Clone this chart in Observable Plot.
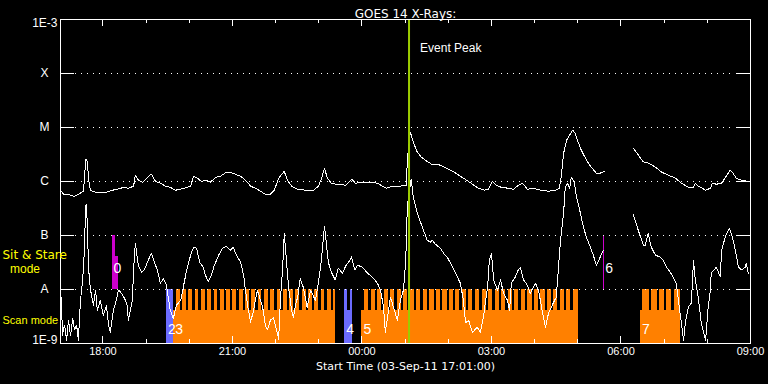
<!DOCTYPE html>
<html><head><meta charset="utf-8">
<script src="https://cdn.jsdelivr.net/npm/d3@7"></script>
<script src="https://cdn.jsdelivr.net/npm/@observablehq/plot@0.6"></script>
<style>html,body{margin:0;padding:0;background:#000;overflow:hidden}svg{display:block}</style>
</head><body><div id="chart"></div>
<script>
// Time values are hours since 2011-09-03 00:00 UT; fluxes in W/m^2
const startHour = 17 + 1/60;
const endHour = 33;
const eventPeakHour = 25.09;

// Long-wavelength channel (1-8 A)
const longChannel = [[17.02,6.9e-7],[17.09,5.8e-7],[17.25,5.6e-7],[17.34,5.3e-7],[17.48,6.1e-7],[17.55,6.6e-7],[17.60,2.5e-6],[17.62,2.6e-6],[17.64,2.2e-6],[17.67,1.06e-6],[17.71,6.9e-7],[17.83,6.3e-7],[18.06,6.3e-7],[18.22,6.9e-7],[18.34,7.2e-7],[18.48,7.8e-7],[18.59,7.5e-7],[18.71,8.2e-7],[18.75,1.3e-6],[18.82,1.06e-6],[18.92,9.7e-7],[19.01,1.15e-6],[19.12,1.37e-6],[19.22,1.0e-6],[19.33,9.3e-7],[19.45,8.2e-7],[19.56,7.8e-7],[19.68,6.9e-7],[19.80,7.2e-7],[19.96,7.8e-7],[20.03,8.2e-7],[20.10,1.25e-6],[20.19,1.15e-6],[20.28,1.0e-6],[20.37,1.06e-6],[20.49,9.7e-7],[20.61,1.2e-6],[20.72,1.25e-6],[20.86,1.49e-6],[21.00,1.43e-6],[21.19,1.25e-6],[21.30,1.06e-6],[21.42,8.2e-7],[21.53,7.5e-7],[21.65,6.6e-7],[21.76,5.8e-7],[21.88,5.8e-7],[21.97,6.9e-7],[22.07,1.15e-6],[22.20,1.55e-6],[22.27,1.06e-6],[22.37,8.2e-7],[22.51,7.2e-7],[22.69,6.9e-7],[22.88,6.9e-7],[22.99,8.2e-7],[23.06,1.1e-6],[23.13,1.76e-6],[23.20,1.15e-6],[23.29,9.3e-7],[23.41,8.9e-7],[23.52,8.9e-7],[23.62,8.5e-7],[23.69,9.7e-7],[23.76,1.1e-6],[23.85,9.3e-7],[24.01,9.7e-7],[24.20,9.7e-7],[24.36,9.3e-7],[24.47,8.2e-7],[24.57,7.5e-7],[24.71,8.2e-7],[24.89,8.2e-7],[25.03,8.5e-7],[25.05,2.5e-6],[25.12,8.2e-6],[25.19,5.3e-6],[25.28,3.5e-6],[25.38,2.8e-6],[25.49,2.4e-6],[25.61,2.1e-6],[25.75,2.1e-6],[25.86,1.92e-6],[26.00,1.69e-6],[26.14,1.49e-6],[26.28,1.25e-6],[26.42,1.06e-6],[26.56,8.9e-7],[26.70,7.5e-7],[26.84,6.9e-7],[26.93,7.2e-7],[27.02,1.0e-6],[27.11,8.5e-7],[27.23,7.8e-7],[27.39,7.5e-7],[27.51,7.2e-7],[27.62,8.5e-7],[27.72,9.3e-7],[27.83,7.2e-7],[27.97,7.5e-7],[28.13,6.9e-7],[28.32,6.6e-7],[28.48,6.9e-7],[28.57,7.5e-7],[28.62,1.3e-6],[28.67,3.3e-6],[28.74,5.8e-6],[28.81,7.2e-6],[28.88,8.9e-6],[28.94,7.8e-6],[29.01,5.3e-6],[29.08,3.8e-6],[29.20,2.5e-6],[29.31,1.84e-6],[29.43,1.43e-6],[29.52,1.43e-6],[29.62,1.55e-6],[29.9,null],[30.29,4.1e-6],[30.40,3.1e-6],[30.52,2.3e-6],[30.63,2.2e-6],[30.80,1.84e-6],[30.94,1.49e-6],[31.10,1.31e-6],[31.26,1.15e-6],[31.40,9.3e-7],[31.56,7.8e-7],[31.68,7.8e-7],[31.72,9.3e-7],[31.79,8.2e-7],[31.96,6.9e-7],[32.07,7.5e-7],[32.12,9.3e-7],[32.21,8.9e-7],[32.33,9.3e-7],[32.42,1.2e-6],[32.53,1.62e-6],[32.58,1.49e-6],[32.67,1.15e-6],[32.79,1.06e-6],[32.95,1.0e-6]];

// Short-wavelength channel (0.5-4 A)
const shortChannel = [[17.02,2.7e-9],[17.04,7.2e-9],[17.06,1.4e-9],[17.11,2.2e-9],[17.16,1.15e-9],[17.20,2.7e-9],[17.25,1.4e-9],[17.30,2.9e-9],[17.34,1.8e-9],[17.39,2.2e-9],[17.43,1.15e-9],[17.48,6.3e-9],[17.53,1.5e-8],[17.57,5.3e-8],[17.60,3.6e-7],[17.62,3.8e-7],[17.64,1.25e-7],[17.67,2.3e-8],[17.71,1.0e-8],[17.78,5.1e-9],[17.83,9.7e-9],[17.87,4.1e-9],[17.94,6.3e-9],[18.01,3.3e-9],[18.08,5.1e-9],[18.13,2.2e-9],[18.17,1.6e-9],[18.24,4.1e-9],[18.31,6.3e-9],[18.36,9.7e-9],[18.41,8.9e-9],[18.50,6.9e-9],[18.56,5.1e-9],[18.59,2.7e-9],[18.68,6.3e-9],[18.71,2.3e-8],[18.75,7.2e-8],[18.82,2.8e-8],[18.89,2.1e-8],[18.96,2.3e-8],[19.03,3.2e-8],[19.12,4.7e-8],[19.19,3.2e-8],[19.26,2.3e-8],[19.33,1.3e-8],[19.40,1.6e-8],[19.47,1.2e-8],[19.56,4.1e-9],[19.63,2.9e-9],[19.70,5.1e-9],[19.80,6.3e-9],[19.87,1.2e-8],[19.94,2.3e-8],[20.03,4.3e-8],[20.10,6.1e-8],[20.17,5.8e-8],[20.24,3.2e-8],[20.31,2.7e-8],[20.38,1.8e-8],[20.44,1.4e-8],[20.51,1.8e-8],[20.58,2.8e-8],[20.68,4.3e-8],[20.77,5.8e-8],[20.86,6.3e-8],[20.95,5.3e-8],[21.02,6.1e-8],[21.09,4.3e-8],[21.19,3.2e-8],[21.26,1.8e-8],[21.30,9.7e-9],[21.35,5.1e-9],[21.42,2.5e-9],[21.49,4.1e-9],[21.53,6.3e-9],[21.58,9.7e-9],[21.65,6.3e-9],[21.70,4.7e-9],[21.76,2.2e-9],[21.81,1.8e-9],[21.88,2.7e-9],[21.95,3.0e-9],[22.02,1.8e-9],[22.07,1.2e-9],[22.11,6.3e-9],[22.16,2.3e-8],[22.20,1.1e-7],[22.25,3.5e-8],[22.30,1.1e-8],[22.37,4.1e-9],[22.41,3.0e-9],[22.46,5.1e-9],[22.51,7.2e-9],[22.57,1.6e-8],[22.64,1.1e-8],[22.73,4.7e-9],[22.81,9.7e-9],[22.92,6.3e-9],[22.99,1.3e-8],[23.06,3.5e-8],[23.13,1.49e-7],[23.18,6.6e-8],[23.22,3.2e-8],[23.29,2.1e-8],[23.38,1.5e-8],[23.45,2.5e-8],[23.55,2.0e-8],[23.62,2.7e-8],[23.69,3.2e-8],[23.76,4.0e-8],[23.83,2.3e-8],[23.90,2.8e-8],[24.01,2.6e-8],[24.13,2.0e-8],[24.24,1.7e-8],[24.36,1.3e-8],[24.43,9.7e-9],[24.50,4.7e-9],[24.54,1.6e-9],[24.59,3.0e-9],[24.66,7.2e-9],[24.73,4.7e-9],[24.82,2.7e-9],[24.89,6.3e-9],[24.96,9.7e-9],[25.01,3.1e-8],[25.03,8.2e-8],[25.05,3.5e-7],[25.10,6.9e-7],[25.14,1.1e-6],[25.19,5.1e-7],[25.28,2.6e-7],[25.40,1.42e-7],[25.51,8.2e-8],[25.58,7.5e-8],[25.63,8.2e-8],[25.70,6.9e-8],[25.82,5.8e-8],[25.89,4.7e-8],[25.98,3.9e-8],[26.05,3.1e-8],[26.17,2.0e-8],[26.28,1.3e-8],[26.35,6.3e-9],[26.40,2.4e-9],[26.47,2.7e-9],[26.56,1.6e-9],[26.67,2.0e-9],[26.74,1.6e-9],[26.81,3.0e-9],[26.91,1.1e-8],[26.95,3.5e-8],[27.00,4.7e-8],[27.05,1.5e-8],[27.14,9.7e-9],[27.21,1.5e-8],[27.28,8.5e-9],[27.37,6.3e-9],[27.42,4.1e-9],[27.46,1.3e-8],[27.55,1.7e-8],[27.62,2.3e-8],[27.67,2.5e-8],[27.74,1.5e-8],[27.81,1.3e-8],[27.90,8.5e-9],[28.02,1.3e-8],[28.09,9.7e-9],[28.16,4.7e-9],[28.25,2.0e-9],[28.32,3.6e-9],[28.43,5.6e-9],[28.50,7.2e-9],[28.60,8.2e-8],[28.67,2.6e-7],[28.71,7.9e-7],[28.76,9.3e-7],[28.81,7.5e-7],[28.85,1.2e-6],[28.92,9.7e-7],[28.97,5.1e-7],[29.06,2.6e-7],[29.13,1.42e-7],[29.20,9.3e-8],[29.29,6.1e-8],[29.36,4.3e-8],[29.43,2.8e-8],[29.52,4.0e-8],[29.59,5.3e-8],[29.9,null],[30.29,2.4e-7],[30.40,1.25e-7],[30.52,6.6e-8],[30.56,6.6e-8],[30.63,1.1e-7],[30.70,6.1e-8],[30.80,4.3e-8],[30.91,4.0e-8],[30.98,3.5e-8],[31.05,2.6e-8],[31.14,2.1e-8],[31.21,1.7e-8],[31.28,1.3e-8],[31.35,4.7e-9],[31.40,2.4e-9],[31.45,1.15e-9],[31.49,2.4e-9],[31.56,4.7e-9],[31.63,5.6e-9],[31.68,3.5e-8],[31.72,1.5e-8],[31.79,7.2e-9],[31.86,2.4e-9],[31.96,1.15e-9],[32.02,4.7e-9],[32.07,9.7e-9],[32.09,2.0e-8],[32.21,2.6e-8],[32.30,1.7e-8],[32.33,5.3e-8],[32.42,9.7e-8],[32.51,1.36e-7],[32.58,9.3e-8],[32.65,5.3e-8],[32.72,2.6e-8],[32.79,2.3e-8],[32.88,2.6e-8],[32.90,3.1e-8],[32.95,2.0e-8]];

// Observations timeline
const obsIds   = ["0", "2", "3", "4", "5", "6", "7"];
const obsKind  = ["stare", "scanB", "scanA", "scanB", "scanA", "stare", "scanA"];
const obsStart = [18.21, 19.47, 19.64, 23.60, 24.00, 29.60, 30.45];
const obsEnd   = [18.35, 19.64, 23.39, 23.77, 29.01, 29.625, 31.37];

// Sit & stare steps: [start, end, top level]
const stareSteps = [[18.21, 18.29, 1e-7], [18.29, 18.35, 4.1e-8], [29.60, 29.625, 1e-7]];

// Gaps between rasters inside scans (start hours) and their duration
const rasterGaps = [19.64,19.79,19.93,20.08,20.22,20.37,20.52,20.66,20.81,20.95,21.10,21.25,21.39,21.54,21.68,21.83,21.98,22.12,22.27,22.41,22.56,22.71,22.85,23.00,23.14,23.29,
  23.67,
  24.00,24.16,24.31,24.46,24.61,24.76,24.91,25.06,25.21,25.36,25.52,25.67,25.82,25.97,26.12,26.27,26.42,26.57,26.73,26.88,27.03,27.18,27.33,27.48,27.63,27.78,27.94,28.09,28.24,28.39,28.54,28.69,28.84,
  30.45,30.66,30.84,31.01,31.18];
const rasterGapHours = 0.055;

// Scan bar levels
const scanFloor = 1e-9, scanSplit = 4.1e-9, modeLevel = 1e-8;

// Axes
const yTickValues = [1e-9, 1e-8, 1e-7, 1e-6, 1e-5, 1e-4, 1e-3];
const yTickLabels = ["1E-9", "A", "B", "C", "M", "X", "1E-3"];
const gridValues = [1e-8, 1e-7, 1e-6, 1e-5, 1e-4];
const hourTicks = [18,19,20,21,22,23,24,25,26,27,28,29,30,31,32,33];
const majorHourTicks = [18,21,24,27,30,33];

const t0 = Date.UTC(2011, 8, 3);
const toDate = h => new Date(t0 + h * 3600e3);
const fmt = d3.utcFormat("%H:%M");

const longData = longChannel.map(([h, v]) => ({t: toDate(h), v: v == null ? NaN : v}));
const shortData = shortChannel.map(([h, v]) => ({t: toDate(h), v: v == null ? NaN : v}));
const obs = obsIds.map((id, i) => ({id, kind: obsKind[i], start: obsStart[i], end: obsEnd[i]}));
const scans = obs.filter(d => d.kind !== "stare");
const stares = obs.filter(d => d.kind === "stare");
const yLabels = yTickValues.map((v, i) => ({v, label: yTickLabels[i]}));
const minorHours = hourTicks.filter(h => !majorHourTicks.includes(h));

const WHITE = "#ffffff", YELLOW = "#ffff00", GREEN = "#9ccc00";
const LIB = "Liberation Sans, Arial, sans-serif";
const DJV = "DejaVu Sans, sans-serif";
const frameH = 384 - 19 - 41;

const chart = Plot.plot({
  width: 768, height: 384,
  marginLeft: 60, marginRight: 18, marginTop: 19, marginBottom: 41,
  style: {background: "#000", color: WHITE, fontFamily: LIB, fontSize: "12px"},
  x: {type: "utc", domain: [toDate(startHour), toDate(endHour)], axis: null},
  y: {type: "log", domain: [1e-9, 1e-3], axis: null},
  color: {domain: ["stare", "scanA", "scanB"], range: ["#cc00cc", "#ff8000", "#6b6bff"]},
  marks: [
    // scan bars
    Plot.rect(scans, {x1: d => toDate(d.start), x2: d => toDate(d.end), y1: () => scanFloor, y2: () => modeLevel, fill: "kind", shapeRendering: "crispEdges"}),
    Plot.rect(rasterGaps, {x1: d => toDate(d), x2: d => toDate(d + rasterGapHours), y1: () => scanSplit, y2: () => modeLevel, fill: "#000", shapeRendering: "crispEdges"}),
    // sit & stare bars
    Plot.rect(stareSteps, {x1: d => toDate(d[0]), x2: d => toDate(d[1]), y1: () => modeLevel, y2: d => d[2], fill: "#cc00cc", shapeRendering: "crispEdges"}),
    // dotted grid
    Plot.tickY(gridValues, {y: d => d, stroke: WHITE, strokeDasharray: "1 5", insetLeft: 15, insetRight: 15, shapeRendering: "crispEdges"}),
    // y ticks left & right
    Plot.tickY(gridValues, {y: d => d, stroke: WHITE, insetRight: 690 - 14, shapeRendering: "crispEdges"}),
    Plot.tickY(gridValues, {y: d => d, stroke: WHITE, insetLeft: 690 - 14, shapeRendering: "crispEdges"}),
    // x ticks bottom & top
    Plot.tickX(majorHourTicks, {x: toDate, stroke: WHITE, insetTop: frameH - 7, shapeRendering: "crispEdges"}),
    Plot.tickX(minorHours, {x: toDate, stroke: WHITE, insetTop: frameH - 4, shapeRendering: "crispEdges"}),
    Plot.tickX(majorHourTicks, {x: toDate, stroke: WHITE, insetBottom: frameH - 7, shapeRendering: "crispEdges"}),
    Plot.tickX(minorHours, {x: toDate, stroke: WHITE, insetBottom: frameH - 4, shapeRendering: "crispEdges"}),
    // GOES curves
    Plot.line(longData, {x: "t", y: "v", stroke: WHITE, strokeWidth: 1, shapeRendering: "crispEdges"}),
    Plot.line(shortData, {x: "t", y: "v", stroke: WHITE, strokeWidth: 1, shapeRendering: "crispEdges"}),
    // event peak
    Plot.ruleX([eventPeakHour], {x: toDate, stroke: GREEN, strokeWidth: 2}),
    Plot.frame({stroke: WHITE, shapeRendering: "crispEdges"}),
    // texts
    Plot.text(["GOES 14 X-Rays:"], {text: d => d, frameAnchor: "top", dy: -10, fill: WHITE, fontSize: 12, fontFamily: DJV}),
    Plot.text(["Start Time (03-Sep-11 17:01:00)"], {text: d => d, frameAnchor: "bottom", dy: 26, fill: WHITE, fontSize: 11, fontFamily: DJV}),
    Plot.text(majorHourTicks, {x: toDate, text: d => fmt(toDate(d)), frameAnchor: "bottom", dy: 11, fill: WHITE, fontSize: 11}),
    Plot.text([eventPeakHour], {x: toDate, text: () => "Event Peak", frameAnchor: "top", dy: 24, dx: 11, textAnchor: "start", fill: WHITE, fontSize: 12}),
    Plot.text(yLabels.filter(d => d.label.length === 1), {y: "v", text: "label", frameAnchor: "left", dx: -16, textAnchor: "middle", fill: WHITE, fontSize: 12}),
    Plot.text(yLabels.filter(d => d.v === 1e-3), {y: "v", text: "label", frameAnchor: "left", dx: -3, dy: 4, textAnchor: "end", fill: WHITE, fontSize: 12}),
    Plot.text(yLabels.filter(d => d.v === 1e-9), {y: "v", text: "label", frameAnchor: "left", dx: -3, dy: -3, textAnchor: "end", fill: WHITE, fontSize: 12}),
    Plot.text(["Sit & Stare"], {text: d => d, frameAnchor: "bottom-left", dx: -58, dy: -85, textAnchor: "start", fill: YELLOW, fontSize: 12, fontFamily: DJV}),
    Plot.text(["mode"], {text: d => d, frameAnchor: "bottom-left", dx: -35.5, dy: -71, textAnchor: "middle", fill: YELLOW, fontSize: 12}),
    Plot.text(["Scan mode"], {text: d => d, frameAnchor: "bottom-left", dx: -58, dy: -19.5, textAnchor: "start", fill: YELLOW, fontSize: 11}),
    // observation labels
    Plot.text(scans, {x: d => toDate(d.start), text: "id", frameAnchor: "bottom", dy: -10, dx: 1.5, textAnchor: "start", fill: WHITE, fontSize: 14}),
    Plot.text(stares, {x: d => toDate(d.start), text: "id", frameAnchor: "bottom", dy: -71, dx: 1.5, textAnchor: "start", fill: WHITE, fontSize: 14})
  ]
});
document.getElementById("chart").appendChild(chart);
</script>
</body></html>
